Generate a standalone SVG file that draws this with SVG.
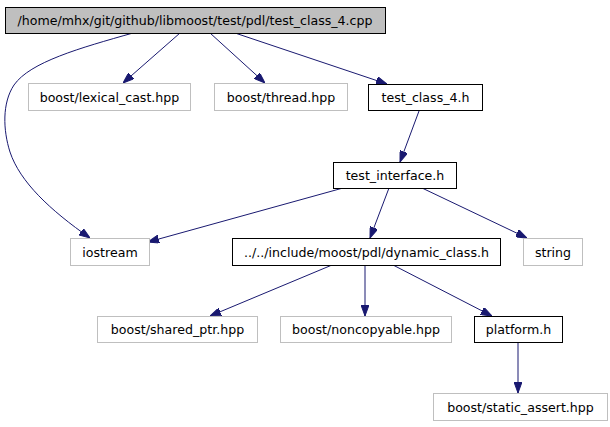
<svg xmlns="http://www.w3.org/2000/svg" width="610" height="427" viewBox="0 0 610 427">
<style>
  .n rect { fill: #ffffff; stroke: #000000; stroke-width: 1; }
  .root rect { fill: #bfbfbf; stroke: #000000; }
  .ext rect { fill: #ffffff; stroke: #bfbfbf; }
  text { font-family: "DejaVu Sans", "Liberation Sans", sans-serif; font-size: 12.6px; fill: #000000; text-anchor: middle; }
  .e path { fill: none; stroke: #191970; stroke-width: 1; marker-end: url(#ah); }
</style>
<defs>
  <marker id="ah" viewBox="0 0 11 8" refX="11" refY="4" markerWidth="11" markerHeight="8" orient="auto" markerUnits="userSpaceOnUse">
    <path d="M0,0 L11,4 L0,8 z" fill="#191970" stroke="#191970" stroke-width="1"/>
  </marker>
</defs>
<rect width="610" height="427" fill="#ffffff"/>
<g id="edges" class="e">
  <path d="M180,33 L123,83"/>
  <path d="M210,33 L265,83"/>
  <path d="M235,33 L387,84"/>
  <path d="M133,33 C80,48 30,62 14,85 C2,103 3,130 10,152 C20,182 50,210 90,238"/>
  <path d="M419,111 L400,162"/>
  <path d="M343,188 L148,242"/>
  <path d="M389,188 L370,238"/>
  <path d="M422,188 L527,238"/>
  <path d="M332,265 L210,316"/>
  <path d="M365,265 L365,316"/>
  <path d="M393,265 L492,316"/>
  <path d="M518,343 L518,393"/>
</g>
<g id="root" class="n root"><rect x="5.5" y="7.5" width="380" height="26"/><text x="195" y="25">/home/mhx/git/github/libmoost/test/pdl/test_class_4.cpp</text></g>
<g id="lexical_cast" class="n ext"><rect x="28.5" y="83.5" width="162" height="27"/><text x="109.5" y="101.5">boost/lexical_cast.hpp</text></g>
<g id="thread" class="n ext"><rect x="214.5" y="83.5" width="133" height="27"/><text x="281" y="101.5">boost/thread.hpp</text></g>
<g id="test_class_4_h" class="n"><rect x="368.5" y="84.5" width="114" height="26"/><text x="425.5" y="102">test_class_4.h</text></g>
<g id="test_interface_h" class="n"><rect x="333.5" y="162.5" width="123" height="26"/><text x="395" y="180">test_interface.h</text></g>
<g id="iostream" class="n ext"><rect x="70.5" y="238.5" width="79" height="27"/><text x="110" y="256.5">iostream</text></g>
<g id="dynamic_class_h" class="n"><rect x="232.5" y="238.5" width="268" height="27"/><text x="366.5" y="256.5">../../include/moost/pdl/dynamic_class.h</text></g>
<g id="string" class="n ext"><rect x="523.5" y="238.5" width="59" height="27"/><text x="553" y="256.5">string</text></g>
<g id="shared_ptr" class="n ext"><rect x="97.5" y="316.5" width="160" height="26"/><text x="177.5" y="334">boost/shared_ptr.hpp</text></g>
<g id="noncopyable" class="n ext"><rect x="280.5" y="316.5" width="171" height="26"/><text x="366" y="334">boost/noncopyable.hpp</text></g>
<g id="platform_h" class="n"><rect x="474.5" y="316.5" width="88" height="26"/><text x="518.5" y="334">platform.h</text></g>
<g id="static_assert" class="n ext"><rect x="433.5" y="393.5" width="174" height="27"/><text x="520.5" y="411.5">boost/static_assert.hpp</text></g>
</svg>
